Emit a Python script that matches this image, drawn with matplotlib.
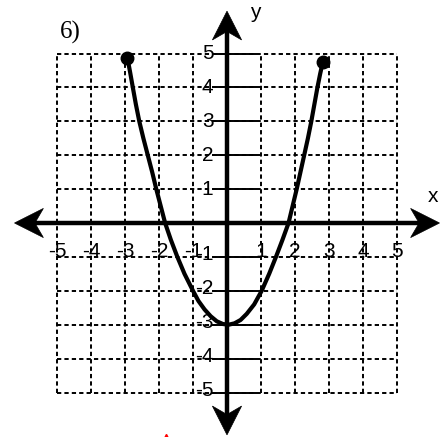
import matplotlib
matplotlib.use("Agg")
import matplotlib.pyplot as plt
import numpy as np
from matplotlib.patches import Polygon

# points
curve_x = [-2.93, -2.85, -2.77, -2.68, -2.58, -2.46, -2.33, -2.2, -2.08, -1.95, -1.82,
           -1.65, -1.46, -1.25, -1.0, -0.84, -0.66, -0.48, -0.3, -0.12, 0.05,
           0.22, 0.4, 0.58, 0.8, 1.02, 1.24, 1.44, 1.63, 1.81, 1.93, 2.05,
           2.16, 2.27, 2.38, 2.48, 2.57, 2.66, 2.74, 2.82]
curve_y = [4.88, 4.45, 4.0, 3.5, 3.0, 2.5, 2.0, 1.5, 1.0, 0.5, 0.0,
           -0.5, -1.0, -1.5, -2.0, -2.3, -2.55, -2.75, -2.9, -2.98, -3.0,
           -2.96, -2.86, -2.68, -2.4, -2.0, -1.5, -1.0, -0.5, 0.0, 0.5, 1.0,
           1.5, 2.0, 2.5, 3.0, 3.5, 4.0, 4.4, 4.76]
end_x = [-2.93, 2.82]
end_y = [4.88, 4.76]

grid_vals = [-5, -4, -3, -2, -1, 0, 1, 2, 3, 4, 5]
x_labels = ["-5", "-4", "-3", "-2", "-1", "", "1", "2", "3", "4", "5"]
y_labels = ["-5", "-4", "-3", "-2", "-1", "", "1", "2", "3", "4", "5"]

AX_END = 6.25
HEAD_LEN = 0.85
HEAD_W = 0.43
NOTCH = 0.6


def arrow_head(ax, tip, direction):
    d = np.asarray(direction, dtype=float)
    n = np.array([-d[1], d[0]])
    t = np.asarray(tip, dtype=float)
    pts = [t,
           t - HEAD_LEN * d + HEAD_W * n,
           t - NOTCH * d,
           t - HEAD_LEN * d - HEAD_W * n]
    ax.add_patch(Polygon(pts, closed=True, facecolor="black", edgecolor="black",
                         lw=0.5, zorder=5))


def main():
    fig = plt.figure(figsize=(4.45, 4.37), dpi=100)
    ax = fig.add_axes([0, 0, 1, 1])
    ax.set_xlim(-227 / 34, 218 / 34)
    ax.set_ylim(-214 / 33.9, 223 / 33.9)
    ax.axis("off")

    dash = dict(color="black", lw=1.4, linestyle=(0, (2.2, 1.6)), zorder=1)
    for v in grid_vals:
        if v != 0:
            ax.plot([v, v], [-5, 5], **dash)
        ax.plot([-5, 5], [v, v], **dash)

    # y ticks
    for v in grid_vals:
        if v != 0:
            ax.plot([-0.4, 0.85], [v, v], color="black", lw=1.4, zorder=2)

    # axes with arrows
    ax.plot([-AX_END + NOTCH, AX_END - NOTCH], [0, 0], color="black", lw=3.2, zorder=4)
    ax.plot([0, 0], [-AX_END + NOTCH, AX_END - NOTCH], color="black", lw=3.2, zorder=4)
    arrow_head(ax, (AX_END, 0), (1, 0))
    arrow_head(ax, (-AX_END, 0), (-1, 0))
    arrow_head(ax, (0, AX_END), (0, 1))
    arrow_head(ax, (0, -AX_END), (0, -1))

    font = dict(family="Liberation Sans", fontsize=15, color="black", zorder=3)
    for v, lab in zip(grid_vals, x_labels):
        if lab:
            ax.text(v, -0.85, lab, ha="center", va="center", **font)
    for v, lab in zip(grid_vals, y_labels):
        if lab:
            ax.text(-0.4, v + (0.07 if v < 0 else 0), lab, ha="right", va="center", **font)

    ax.text(6.06, 0.77, "x", ha="center", va="center", **font)
    ax.text(0.82, 6.2, "y", ha="center", va="center", **font)
    ax.text(-4.93, 5.63, "6)", ha="left", va="center", family="Liberation Serif",
            fontsize=18, color="black")

    ax.plot(curve_x, curve_y, color="black", lw=3, solid_capstyle="round",
            solid_joinstyle="round", zorder=6)
    ax.plot(end_x, end_y, "o", color="black", markersize=9, zorder=7)

    ax.plot([-1.79], [-6.27], marker="^", color="red", markersize=3, lw=0)

    fig.savefig("out.png", dpi=100)
    plt.close(fig)


if __name__ == "__main__":
    main()
